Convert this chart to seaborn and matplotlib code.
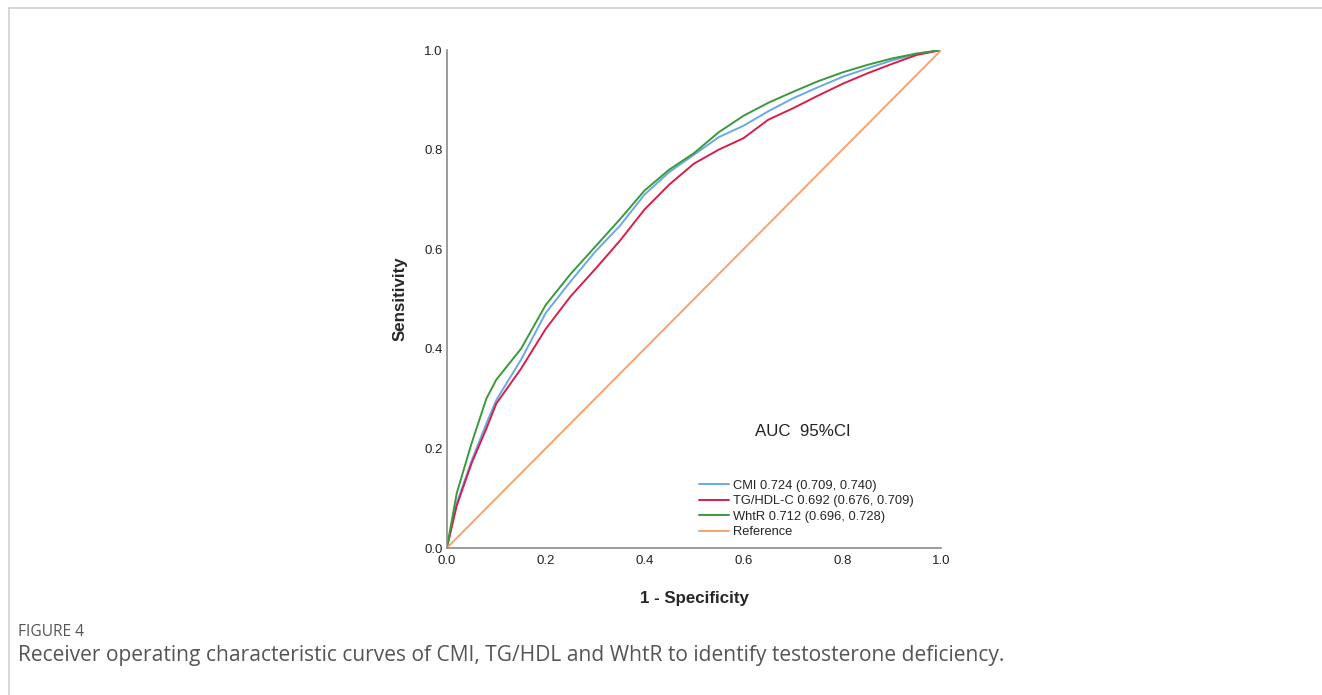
import numpy as np
import pandas as pd
import seaborn as sns
import matplotlib.pyplot as plt
from matplotlib.lines import Line2D

# values
fpr = [0.0, 0.02, 0.05, 0.08, 0.10, 0.15, 0.20, 0.25, 0.30, 0.35, 0.40, 0.45,
       0.50, 0.55, 0.60, 0.65, 0.70, 0.75, 0.80, 0.85, 0.90, 0.95, 1.0]
tpr_cmi = [0.0, 0.090, 0.175, 0.250, 0.297, 0.378, 0.472, 0.535, 0.595, 0.647, 0.710, 0.755,
           0.790, 0.825, 0.848, 0.877, 0.903, 0.925, 0.946, 0.963, 0.979, 0.992, 1.0]
tpr_tg = [0.0, 0.085, 0.170, 0.240, 0.290, 0.360, 0.440, 0.505, 0.560, 0.617, 0.680, 0.730,
          0.772, 0.800, 0.823, 0.860, 0.883, 0.908, 0.932, 0.953, 0.972, 0.990, 1.0]
tpr_whtr = [0.0, 0.110, 0.210, 0.300, 0.338, 0.400, 0.488, 0.550, 0.605, 0.660, 0.718, 0.760,
            0.793, 0.835, 0.868, 0.894, 0.916, 0.937, 0.955, 0.970, 0.983, 0.993, 1.0]
ref = [0.0, 1.0]

labels = ["CMI 0.724 (0.709, 0.740)", "TG/HDL-C 0.692 (0.676, 0.709)",
          "WhtR 0.712 (0.696, 0.728)", "Reference"]
colors = ["#6aa8e6", "#d81e4c", "#3a9a3a", "#f5a36f"]

sns.set_style("white")
plt.rcParams['font.family'] = ['Liberation Sans', 'DejaVu Sans']

fig = plt.figure(figsize=(13.22, 6.95), dpi=100)
ax = fig.add_axes([0.338, 0.2115, 0.374, 0.7165])

curves = [(fpr, tpr_cmi), (fpr, tpr_tg), (fpr, tpr_whtr), (ref, ref)]
for (xs, ys), lab, c in zip(curves, labels, colors):
    sns.lineplot(x=xs, y=ys, ax=ax, color=c, lw=1.4, label=lab,
                 estimator=None, sort=False)

ticks = np.arange(0, 1.01, 0.2)
ax.set_xlim(0, 1)
ax.set_ylim(0, 1)
ax.set_xticks(ticks)
ax.set_yticks(ticks)
ax.set_xticklabels([f"{v:.1f}" for v in ticks])
ax.set_yticklabels([f"{v:.1f}" for v in ticks])
ax.tick_params(length=0, labelsize=9.5, colors="#222222")
ax.tick_params(axis="x", pad=5)
ax.tick_params(axis="y", pad=3)
for s in ["top", "right"]:
    ax.spines[s].set_visible(False)
for s in ["left", "bottom"]:
    ax.spines[s].set_color("#8a8a8a")
    ax.spines[s].set_linewidth(1.2)

ax.set_xlabel("1 - Specificity", fontsize=12.2, fontweight="bold", labelpad=17)
ax.set_ylabel("Sensitivity", fontsize=12.2, fontweight="bold", labelpad=12)

ax.text(0.72, 0.233, "AUC  95%CI", transform=ax.transAxes, ha="center", va="center",
        fontsize=12.2, color="#222222")
ax.legend(loc="upper left", bbox_to_anchor=(0.5, 0.148), frameon=False, fontsize=9.3,
          handlelength=2.3, handletextpad=0.35, labelspacing=0.27, borderaxespad=0)

# page frame lines
fig.add_artist(Line2D([9 / 1322, 1], [1 - 8 / 695, 1 - 8 / 695], color="#d0d0d0", lw=1.2))
fig.add_artist(Line2D([9 / 1322, 9 / 1322], [0, 1 - 8 / 695], color="#d0d0d0", lw=1.2))

fig.text(18 / 1322, 1 - 632 / 695, "FIGURE 4", fontsize=11.2, color="#555555",
         family=["Open Sans", "DejaVu Sans"], va="center")
fig.text(18 / 1322, 1 - 656 / 695,
         "Receiver operating characteristic curves of CMI, TG/HDL and WhtR to identify testosterone deficiency.",
         fontsize=15.1, color="#555555", family=["Open Sans", "DejaVu Sans"], va="center")

fig.savefig("out.png", dpi=100)
